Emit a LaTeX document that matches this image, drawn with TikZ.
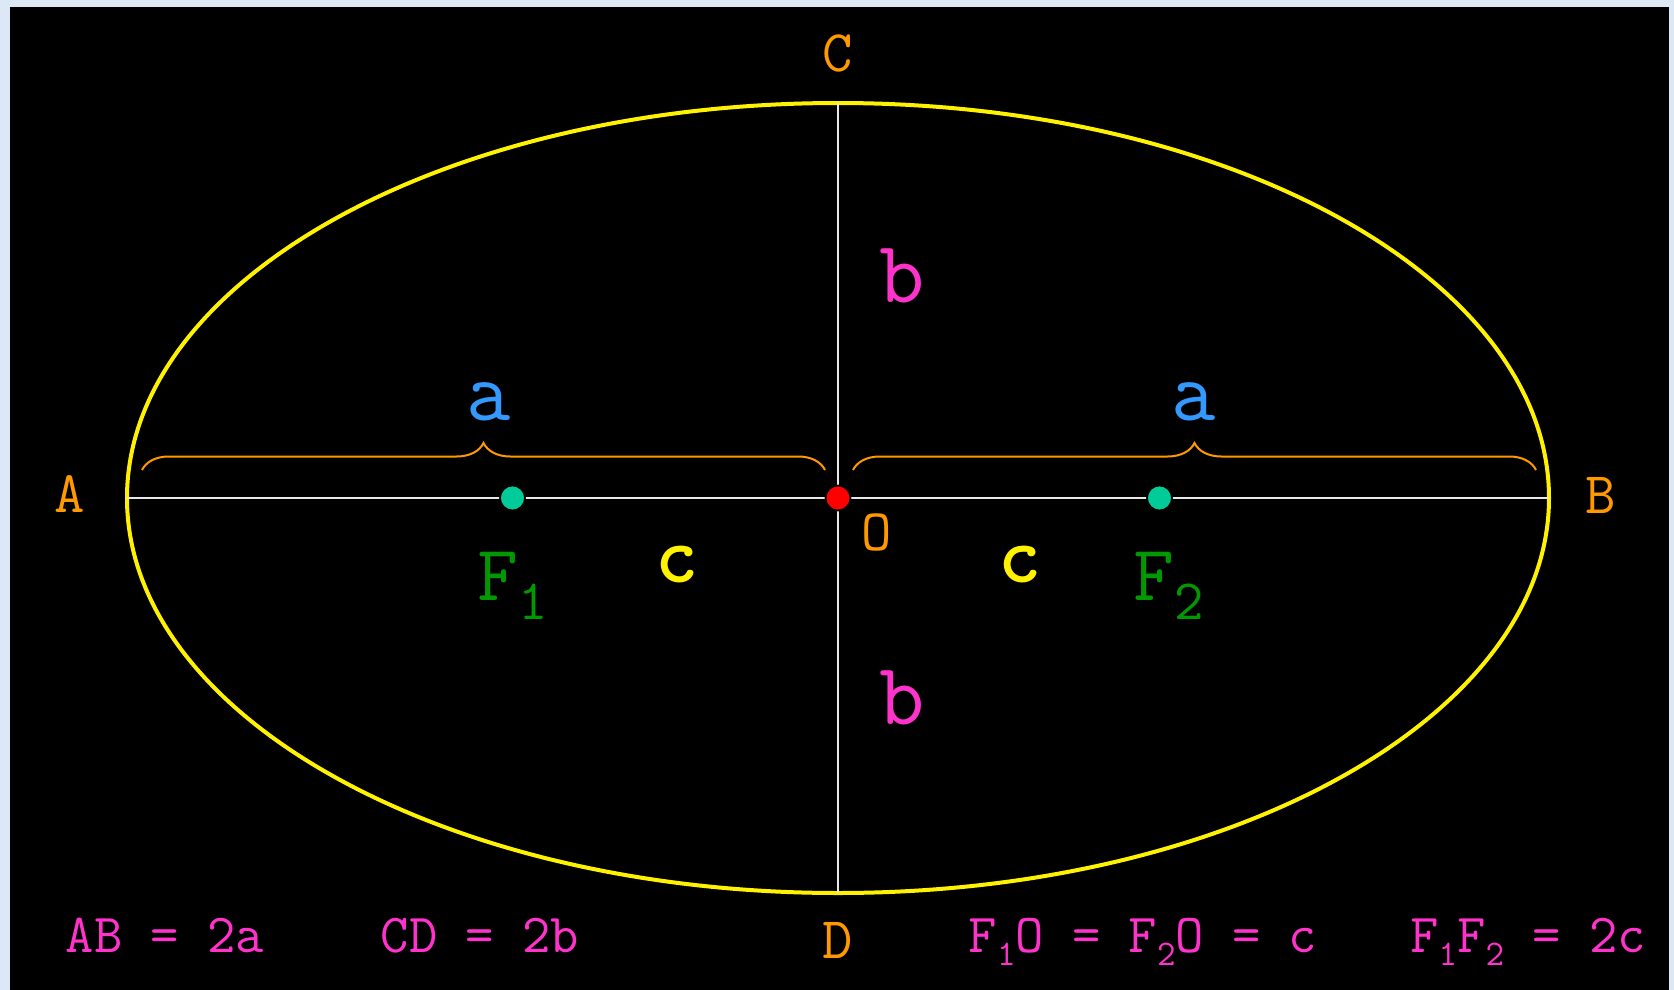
\documentclass[tikz,border=0pt]{standalone}
\usepackage{fontspec}
\usetikzlibrary{decorations.pathreplacing}
\definecolor{frameblue}{HTML}{DDE8F7}
\definecolor{ptorange}{HTML}{FF9900}
\definecolor{halfblue}{HTML}{3399FF}
\definecolor{halfpink}{HTML}{FF33CC}
\definecolor{focusgreen}{HTML}{009900}
\definecolor{focusteal}{HTML}{00CC99}
\definecolor{axisgray}{HTML}{E8E8E8}
% subscript: drop, size, text
\newcommand{\lowsub}[3]{\raisebox{-#1pt}{\fontsize{#2}{#2}\selectfont #3}}
\tikzset{
    ptlabel/.style={text=ptorange, inner sep=0, anchor=base, font=\ttfamily\fontsize{59}{59}\selectfont},
    halflabel/.style={inner sep=0, anchor=base, font=\ttfamily\fontsize{86}{86}\selectfont},
    focuslabel/.style={text=focusgreen, inner sep=0, anchor=base west, font=\ttfamily\fontsize{79}{79}\selectfont},
    formula/.style={text=halfpink, inner sep=0, anchor=base, font=\ttfamily\fontsize{55}{55}\selectfont},
    dot/.style={circle, draw=black, line width=1.7pt, inner sep=0, minimum size=25pt},
    bracepath/.style={draw=ptorange, line width=2pt, decorate, decoration={brace, amplitude=27pt}}
}
\begin{document}
\begin{tikzpicture}[x=1pt,y=-1pt]
    \fill[frameblue] (0,0) rectangle (1674,990);
    \fill[black] (10,7) rectangle (1669,990);
    \useasboundingbox (0,0) rectangle (1674,990);
    % points of the ellipse
    \coordinate (O) at (838,498);
    \coordinate (A) at (127,498);
    \coordinate (B) at (1549,498);
    \coordinate (C) at (838,103);
    \coordinate (D) at (838,893);
    \coordinate (F1) at (512.5,498);
    \coordinate (F2) at (1159.5,498);
    \draw[yellow, line width=4pt] (O) ellipse [x radius=711pt, y radius=395pt];
    \draw[axisgray, line width=2pt] (A) -- (B);
    \draw[axisgray, line width=2pt] (C) -- (D);
    % braces over the two halves
    \coordinate (bl1) at (142,470);
    \coordinate (bl2) at (825,470);
    \coordinate (br1) at (853,470);
    \coordinate (br2) at (1536,470);
    \draw[bracepath] (bl1) -- (bl2);
    \draw[bracepath] (br1) -- (br2);
    \node[dot, fill=focusteal] (dotF1) at (F1) {};
    \node[dot, fill=focusteal] (dotF2) at (F2) {};
    \node[dot, fill=red] (dotO) at (O) {};
    % letters
    \node[ptlabel] (labA) at (70,512) {A};
    \node[ptlabel] (labB) at (1601,513) {B};
    \node[ptlabel] (labC) at (838,72) {C};
    \node[ptlabel] (labD) at (838,958) {D};
    \node[ptlabel] (labO) at (877,550) {O};
    \node[halflabel, text=halfblue] (aleft) at (489,420) {a};
    \node[halflabel, text=halfblue] (aright) at (1194,420) {a};
    \node[halflabel, text=halfpink, font=\ttfamily\fontsize{88}{88}\selectfont] (bup) at (902,302) {b};
    \node[halflabel, text=halfpink, font=\ttfamily\fontsize{88}{88}\selectfont] (bdown) at (902,724) {b};
    \node[halflabel, text=yellow, font=\ttfamily\bfseries\fontsize{82}{82}\selectfont] (cleft) at (677,582) {c};
    \node[halflabel, text=yellow, font=\ttfamily\bfseries\fontsize{82}{82}\selectfont] (cright) at (1020,582) {c};
    \node[focuslabel] (labF1) at (477.5,600) {F\lowsub{19}{57}{1}};
    \node[focuslabel] (labF2) at (1133.5,600) {F\lowsub{19}{57}{2}};
    % relations along the bottom
    \node[formula] (relAB) at (165,952) {AB = 2a};
    \node[formula] (relCD) at (480,952) {CD = 2b};
    \node[formula] (relFO) at (1143,952) {F\lowsub{13}{36}{1}O = F\lowsub{13}{36}{2}O = c};
    \node[formula] (relFF) at (1528,952) {F\lowsub{13}{36}{1}F\lowsub{13}{36}{2} = 2c};
\end{tikzpicture}
\end{document}
